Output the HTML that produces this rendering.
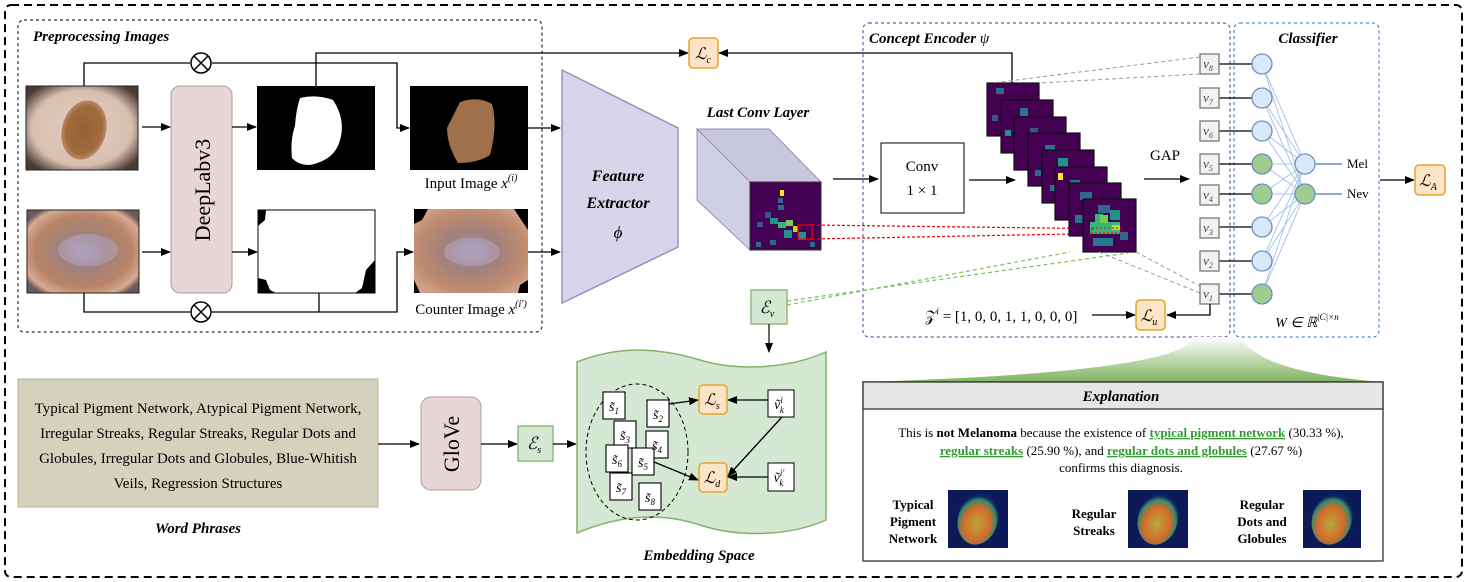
<!DOCTYPE html>
<html><head><meta charset="utf-8"><style>
html,body{margin:0;padding:0;background:#fff;}
svg{display:block;font-family:"Liberation Serif",serif;}
.bi{font-weight:bold;font-style:italic;}
.m{font-style:italic;}
</style></head><body>
<svg width="1469" height="582" viewBox="0 0 1469 582" xmlns="http://www.w3.org/2000/svg">
<defs>
<marker id="a" markerWidth="10" markerHeight="8" refX="9" refY="4" orient="auto" markerUnits="userSpaceOnUse"><path d="M0,0 L10,4 L0,8 Z" fill="#000"/></marker>
<radialGradient id="sk1" cx="50%" cy="50%" r="62%"><stop offset="0" stop-color="#e2cdbf"/><stop offset="0.72" stop-color="#d8c0b0"/><stop offset="1" stop-color="#4a3a32"/></radialGradient>
<radialGradient id="mole1" cx="50%" cy="50%" r="50%"><stop offset="0" stop-color="#946036"/><stop offset="0.8" stop-color="#a06c3e"/><stop offset="1" stop-color="#b9896a"/></radialGradient>
<radialGradient id="sk2" cx="50%" cy="50%" r="62%"><stop offset="0" stop-color="#a89ab8"/><stop offset="0.35" stop-color="#a0817a"/><stop offset="0.7" stop-color="#b98468"/><stop offset="0.9" stop-color="#d8aa92"/><stop offset="1" stop-color="#6a5a5a"/></radialGradient>
<radialGradient id="sk3" cx="50%" cy="50%" r="60%"><stop offset="0" stop-color="#a99ab8"/><stop offset="0.4" stop-color="#a2807a"/><stop offset="0.8" stop-color="#c08c70"/><stop offset="1" stop-color="#d0a088"/></radialGradient>
<radialGradient id="hm" cx="50%" cy="60%" r="55%"><stop offset="0" stop-color="#b9a83a"/><stop offset="0.6" stop-color="#d46a2a"/><stop offset="0.85" stop-color="#3a8a6a"/><stop offset="1" stop-color="#102060"/></radialGradient>
<linearGradient id="fun" x1="0" y1="0" x2="0" y2="1"><stop offset="0" stop-color="#ffffff"/><stop offset="1" stop-color="#7fb35f"/></linearGradient>
</defs>

<rect x="5" y="5" width="1457" height="572" rx="6" fill="none" stroke="#000" stroke-width="2" stroke-dasharray="8,5"/>

<rect x="18" y="20" width="524" height="312" rx="6" fill="none" stroke="#000" stroke-width="1" stroke-dasharray="3,3"/>
<text x="33" y="41" class="bi" font-size="15">Preprocessing Images</text>

<rect x="26" y="86" width="112" height="84" fill="url(#sk1)" stroke="#222"/>
<ellipse cx="84" cy="130" rx="22" ry="30" fill="url(#mole1)" transform="rotate(15 84 130)"/>
<rect x="27" y="210" width="112" height="83" fill="url(#sk2)" stroke="#222"/>
<ellipse cx="88" cy="250" rx="30" ry="16" fill="#b4a8c8" opacity="0.5"/>

<rect x="171" y="86" width="61" height="207" rx="9" fill="#e8d6d6" stroke="#b09a9a"/>
<text transform="translate(210,190) rotate(-90)" text-anchor="middle" font-size="22">DeepLabv3</text>

<rect x="257" y="86" width="118" height="84" fill="#000"/>
<path d="M300,98 Q316,94 333,100 Q346,120 340,140 Q335,160 310,165 Q298,165 292,158 Q290,140 295,126 Q296,110 300,98 Z" fill="#fff"/>
<rect x="258" y="210" width="117" height="83" fill="#fff" stroke="#000"/>
<path d="M258,210 L266,210 L265,220 L258,226 Z M258,278 L266,280 L270,290 L276,293 L258,293 Z M375,260 L366,270 L362,288 L355,293 L375,293 Z" fill="#000"/>

<rect x="410" y="86" width="118" height="84" fill="#000"/>
<path d="M460,102 Q478,96 492,104 Q498,125 490,155 Q478,163 458,163 Q447,145 447,128 Z" fill="#a0704a"/>
<rect x="414" y="209" width="114" height="84" fill="url(#sk3)"/>
<path d="M414,209 L428,209 L422,220 L414,224 Z M514,209 L528,209 L528,230 Z M414,280 L420,293 L414,293 Z M520,285 L528,280 L528,293 L518,293 Z" fill="#000"/>
<ellipse cx="472" cy="252" rx="28" ry="14" fill="#b4a8c8" opacity="0.5"/>

<text x="471" y="188" text-anchor="middle" font-size="15">Input Image <tspan class="m">x</tspan><tspan font-size="10" dy="-7" class="m">(i)</tspan></text>
<text x="471" y="314" text-anchor="middle" font-size="15">Counter Image <tspan class="m">x</tspan><tspan font-size="10" dy="-7" class="m">(i′)</tspan></text>

<g stroke="#000" stroke-width="1.3" fill="none">
<line x1="142" y1="127" x2="170" y2="127" marker-end="url(#a)"/>
<line x1="142" y1="252" x2="170" y2="252" marker-end="url(#a)"/>
<line x1="232" y1="127" x2="256" y2="127" marker-end="url(#a)"/>
<line x1="232" y1="252" x2="257" y2="252" marker-end="url(#a)"/>
<polyline points="84,86 84,63 190,63"/>
<polyline points="212,63 397,63 397,128 409,128" marker-end="url(#a)"/>
<polyline points="84,293 84,312 190,312"/>
<polyline points="212,312 397,312 397,252 413,252" marker-end="url(#a)"/>
<line x1="319" y1="293" x2="319" y2="312"/>
<polyline points="316,86 316,53 688,53" marker-end="url(#a)"/>
<polyline points="1012,83 1012,53 719,53" marker-end="url(#a)"/>
<line x1="528" y1="128" x2="560" y2="128" marker-end="url(#a)"/>
<line x1="528" y1="252" x2="560" y2="252" marker-end="url(#a)"/>
</g>
<g stroke="#000" stroke-width="1.5" fill="#fff">
<circle cx="201" cy="63" r="10"/><path d="M194,56 L208,70 M208,56 L194,70"/>
<circle cx="201" cy="312" r="10"/><path d="M194,305 L208,319 M208,305 L194,319"/>
</g>

<rect x="689" y="38" width="29" height="30" rx="4" fill="#fde4c6" stroke="#e3a531" stroke-width="1.5"/>
<text x="703" y="59" text-anchor="middle" font-size="16" class="m">ℒ<tspan font-size="10" dy="4">c</tspan></text>

<path d="M562,70 L678,128 L678,247 L562,303 Z" fill="#d6d5ea" stroke="#9c8cc0" stroke-width="1.5"/>
<text x="618" y="181" text-anchor="middle" class="bi" font-size="16">Feature</text>
<text x="618" y="208" text-anchor="middle" class="bi" font-size="16">Extractor</text>
<text x="618" y="238" text-anchor="middle" class="m" font-size="17">ϕ</text>

<text x="758" y="117" text-anchor="middle" class="bi" font-size="15">Last Conv Layer</text>
<path d="M697,129 L769,129 L821,182 L750,182 Z" fill="#c8c8dc" stroke="#9c8cc0"/>
<path d="M697,129 L750,182 L750,250 L697,200 Z" fill="#d0d0e4" stroke="#9c8cc0"/>
<rect x="750" y="182" width="71" height="68" fill="#440154" stroke="#333"/>
<g>
<rect x="780" y="190" width="4" height="6" fill="#fde725"/>
<rect x="778" y="198" width="5" height="5" fill="#31688e"/>
<rect x="778" y="205" width="6" height="5" fill="#31688e"/>
<rect x="765" y="212" width="6" height="6" fill="#3b528b"/>
<rect x="770" y="218" width="8" height="6" fill="#21918c"/>
<rect x="778" y="222" width="8" height="6" fill="#35b779"/>
<rect x="786" y="220" width="7" height="6" fill="#6ece58"/>
<rect x="793" y="226" width="5" height="6" fill="#b5de2b"/>
<rect x="757" y="222" width="6" height="5" fill="#3b528b"/>
<rect x="784" y="230" width="8" height="8" fill="#21918c"/>
<rect x="798" y="232" width="8" height="8" fill="#21918c"/>
<rect x="770" y="240" width="6" height="5" fill="#31688e"/>
<rect x="756" y="242" width="5" height="5" fill="#31688e"/>
<rect x="810" y="242" width="5" height="5" fill="#31688e"/>
</g>
<rect x="798" y="225" width="14" height="14" fill="none" stroke="#e00" stroke-width="1.2"/>
<g stroke="#e00" stroke-width="1.2" stroke-dasharray="3,2">
<line x1="812" y1="225" x2="1122" y2="229"/><line x1="812" y1="239" x2="1122" y2="233"/>
</g>

<rect x="863" y="23" width="367" height="314" rx="6" fill="none" stroke="#5b2c8f" stroke-width="1" stroke-dasharray="3,3"/>
<text x="869" y="43" class="bi" font-size="15">Concept Encoder <tspan class="m" font-weight="normal">ψ</tspan></text>
<line x1="833" y1="179" x2="878" y2="179" stroke="#000" stroke-width="1.3" marker-end="url(#a)"/>
<rect x="881" y="143" width="83" height="70" fill="#fff" stroke="#000"/>
<text x="922" y="171" text-anchor="middle" font-size="15">Conv</text>
<text x="922" y="195" text-anchor="middle" font-size="15">1 × 1</text>
<line x1="969" y1="180" x2="1015" y2="180" stroke="#000" stroke-width="1.3" marker-end="url(#a)"/>

<g stroke="#111" stroke-width="1.2">
<rect x="987" y="83" width="52" height="53" fill="#440154"/>
<rect x="996" y="88" width="8" height="6" fill="#31688e" stroke="none"/><rect x="1010" y="100" width="6" height="8" fill="#21918c" stroke="none"/><rect x="992" y="115" width="6" height="6" fill="#3b528b" stroke="none"/>
<rect x="1001" y="100" width="52" height="53" fill="#440154"/>
<rect x="1020" y="108" width="8" height="8" fill="#2c728e" stroke="none"/><rect x="1005" y="130" width="6" height="6" fill="#21918c" stroke="none"/><rect x="1030" y="120" width="6" height="6" fill="#31688e" stroke="none"/>
<rect x="1014" y="117" width="52" height="53" fill="#440154"/>
<rect x="1030" y="128" width="8" height="6" fill="#3b528b" stroke="none"/><rect x="1040" y="150" width="6" height="6" fill="#31688e" stroke="none"/>
<rect x="1028" y="133" width="52" height="53" fill="#440154"/>
<rect x="1045" y="145" width="10" height="8" fill="#2c728e" stroke="none"/><rect x="1055" y="160" width="8" height="8" fill="#21918c" stroke="none"/><rect x="1035" y="170" width="6" height="6" fill="#31688e" stroke="none"/>
<rect x="1042" y="150" width="52" height="53" fill="#440154"/>
<rect x="1058" y="158" width="10" height="10" fill="#21918c" stroke="none"/><rect x="1068" y="170" width="8" height="8" fill="#35b779" stroke="none"/><rect x="1050" y="185" width="8" height="6" fill="#2c728e" stroke="none"/>
<rect x="1055" y="167" width="52" height="53" fill="#440154"/>
<rect x="1058" y="173" width="5" height="7" fill="#fde725" stroke="none"/><rect x="1070" y="180" width="10" height="8" fill="#2c728e" stroke="none"/><rect x="1080" y="195" width="10" height="8" fill="#21918c" stroke="none"/>
<rect x="1069" y="183" width="52" height="53" fill="#440154"/>
<rect x="1080" y="192" width="12" height="8" fill="#31688e" stroke="none"/><rect x="1090" y="205" width="12" height="10" fill="#21918c" stroke="none"/><rect x="1075" y="215" width="8" height="8" fill="#2c728e" stroke="none"/>
<rect x="1083" y="199" width="53" height="53" fill="#440154"/>
</g>
<g stroke="none">
<rect x="1098" y="205" width="12" height="8" fill="#31688e"/>
<rect x="1110" y="210" width="10" height="10" fill="#21918c"/>
<rect x="1095" y="214" width="8" height="8" fill="#35b779"/>
<rect x="1090" y="222" width="30" height="12" fill="#35b779"/>
<rect x="1100" y="215" width="8" height="8" fill="#6ece58"/>
<rect x="1093" y="238" width="20" height="8" fill="#2a788e"/>
<rect x="1112" y="225" width="8" height="5" fill="#b5de2b"/>
<rect x="1120" y="232" width="8" height="8" fill="#31688e"/>
</g>
<rect x="1092" y="228" width="30" height="5" fill="none" stroke="#e00" stroke-dasharray="2,2"/>
<text x="1165" y="160" text-anchor="middle" font-size="15">GAP</text>
<line x1="1144" y1="179" x2="1189" y2="179" stroke="#000" stroke-width="1.3" marker-end="url(#a)"/>

<g stroke="#999" stroke-width="1" stroke-dasharray="4,3">
<line x1="1200" y1="57" x2="992" y2="83"/><line x1="1200" y1="74" x2="1039" y2="83"/>
<line x1="1099" y1="252" x2="1200" y2="293"/><line x1="1136" y1="252" x2="1200" y2="286"/>
</g>
<g stroke="#7fbf5f" stroke-width="1.2" stroke-dasharray="4,3">
<line x1="787" y1="305" x2="1070" y2="252"/><line x1="787" y1="301" x2="1128" y2="253"/>
</g>

<rect x="1234" y="23" width="145" height="314" rx="6" fill="none" stroke="#2b6cb0" stroke-width="1" stroke-dasharray="3,3"/>
<text x="1308" y="43" text-anchor="middle" class="bi" font-size="15">Classifier</text>
<g stroke="#a9c4eb" stroke-width="1">
<path d="M1262,64 L1305,164 M1262,64 L1305,194 M1262,98 L1305,164 M1262,98 L1305,194 M1262,131 L1305,164 M1262,131 L1305,194 M1262,164 L1305,164 M1262,164 L1305,194 M1262,194 L1305,164 M1262,194 L1305,194 M1262,227 L1305,164 M1262,227 L1305,194 M1262,261 L1305,164 M1262,261 L1305,194 M1262,294 L1305,164 M1262,294 L1305,194"/>
</g>
<g stroke="#6c8ebf" stroke-width="1.5"><line x1="1305" y1="164" x2="1342" y2="164"/><line x1="1305" y1="194" x2="1342" y2="194"/></g>
<g stroke="#000" stroke-width="1.3">
<line x1="1219" y1="64" x2="1252" y2="64"/><line x1="1219" y1="98" x2="1252" y2="98"/><line x1="1219" y1="131" x2="1252" y2="131"/><line x1="1219" y1="164" x2="1252" y2="164"/><line x1="1219" y1="194" x2="1252" y2="194"/><line x1="1219" y1="227" x2="1252" y2="227"/><line x1="1219" y1="261" x2="1252" y2="261"/><line x1="1219" y1="294" x2="1252" y2="294"/>
</g>
<g stroke-width="1.3">
<circle cx="1262" cy="64" r="10" fill="#dae8fc" stroke="#6c8ebf"/>
<circle cx="1262" cy="98" r="10" fill="#dae8fc" stroke="#6c8ebf"/>
<circle cx="1262" cy="131" r="10" fill="#dae8fc" stroke="#6c8ebf"/>
<circle cx="1262" cy="164" r="10" fill="#9fcc8f" stroke="#6c8ebf"/>
<circle cx="1262" cy="194" r="10" fill="#9fcc8f" stroke="#6c8ebf"/>
<circle cx="1262" cy="227" r="10" fill="#dae8fc" stroke="#6c8ebf"/>
<circle cx="1262" cy="261" r="10" fill="#dae8fc" stroke="#6c8ebf"/>
<circle cx="1262" cy="294" r="10" fill="#9fcc8f" stroke="#6c8ebf"/>
<circle cx="1305" cy="164" r="10" fill="#dae8fc" stroke="#6c8ebf"/>
<circle cx="1305" cy="194" r="10" fill="#9fcc8f" stroke="#6c8ebf"/>
</g>
<text x="1347" y="168" font-size="13">Mel</text>
<text x="1347" y="198" font-size="13">Nev</text>
<g fill="#f2f2f2" stroke="#777" stroke-width="1.3">
<rect x="1200" y="54" width="19" height="20"/><rect x="1200" y="88" width="19" height="20"/><rect x="1200" y="121" width="19" height="20"/><rect x="1200" y="154" width="19" height="20"/><rect x="1200" y="185" width="19" height="20"/><rect x="1200" y="218" width="19" height="20"/><rect x="1200" y="251" width="19" height="20"/><rect x="1200" y="284" width="19" height="20"/>
</g>
<g font-size="13" class="m" fill="#444" text-anchor="middle">
<text x="1208" y="68">v<tspan font-size="8" dy="3">8</tspan></text>
<text x="1208" y="102">v<tspan font-size="8" dy="3">7</tspan></text>
<text x="1208" y="135">v<tspan font-size="8" dy="3">6</tspan></text>
<text x="1208" y="168">v<tspan font-size="8" dy="3">5</tspan></text>
<text x="1208" y="199">v<tspan font-size="8" dy="3">4</tspan></text>
<text x="1208" y="232">v<tspan font-size="8" dy="3">3</tspan></text>
<text x="1208" y="265">v<tspan font-size="8" dy="3">2</tspan></text>
<text x="1208" y="298">v<tspan font-size="8" dy="3">1</tspan></text>
</g>
<line x1="1380" y1="180" x2="1414" y2="180" stroke="#000" stroke-width="1.3" marker-end="url(#a)"/>
<rect x="1415" y="165" width="30" height="30" rx="4" fill="#fde4c6" stroke="#e3a531" stroke-width="1.5"/>
<text x="1428" y="186" text-anchor="middle" font-size="16" class="m">ℒ<tspan font-size="10" dy="4">A</tspan></text>
<text x="1307" y="327" text-anchor="middle" font-size="14" class="m">W ∈ ℝ<tspan font-size="9" dy="-7">|C|×n</tspan></text>

<text x="925" y="321" font-size="15">𝒵<tspan font-size="9" dy="-7" class="m">i</tspan><tspan dy="7"> = [1, 0, 0, 1, 1, 0, 0, 0]</tspan></text>
<line x1="1092" y1="315" x2="1135" y2="315" stroke="#000" stroke-width="1.3" marker-end="url(#a)"/>
<polyline points="1210,304 1210,315 1167,315" fill="none" stroke="#000" stroke-width="1.3" marker-end="url(#a)"/>
<rect x="1136" y="300" width="29" height="30" rx="4" fill="#fde4c6" stroke="#e3a531" stroke-width="1.5"/>
<text x="1149" y="321" text-anchor="middle" font-size="16" class="m">ℒ<tspan font-size="10" dy="4">u</tspan></text>

<rect x="751" y="290" width="36" height="34" fill="#d5e8d4" stroke="#82b366" stroke-width="1.3"/>
<text x="767" y="313" text-anchor="middle" font-size="17" class="m">ℰ<tspan font-size="10" dy="4">v</tspan></text>
<line x1="769" y1="324" x2="769" y2="352" stroke="#000" stroke-width="1.2" marker-end="url(#a)"/>

<rect x="18" y="379" width="360" height="128" fill="#d4d2bd" stroke="#b8b697"/>
<g font-size="15" text-anchor="middle">
<text x="198" y="413">Typical Pigment Network, Atypical Pigment Network,</text>
<text x="198" y="438">Irregular Streaks, Regular Streaks, Regular Dots and</text>
<text x="198" y="463">Globules, Irregular Dots and Globules, Blue-Whitish</text>
<text x="198" y="488">Veils, Regression Structures</text>
</g>
<text x="198" y="533" text-anchor="middle" class="bi" font-size="15">Word Phrases</text>
<line x1="378" y1="444" x2="419" y2="444" stroke="#000" stroke-width="1.3" marker-end="url(#a)"/>
<rect x="421" y="397" width="60" height="93" rx="10" fill="#e8d6d6" stroke="#b09a9a"/>
<text transform="translate(459,444) rotate(-90)" text-anchor="middle" font-size="22">GloVe</text>
<line x1="481" y1="444" x2="517" y2="444" stroke="#000" stroke-width="1.3" marker-end="url(#a)"/>
<rect x="518" y="426" width="35" height="35" fill="#d5e8d4" stroke="#82b366" stroke-width="1.3"/>
<text x="534" y="449" text-anchor="middle" font-size="17" class="m">ℰ<tspan font-size="10" dy="4">s</tspan></text>
<line x1="553" y1="444" x2="576" y2="444" stroke="#000" stroke-width="1.3" marker-end="url(#a)"/>

<path d="M577,362 C620,345 660,348 700,360 C740,372 790,368 826,352 L826,520 C790,536 740,538 700,525 C660,512 620,515 577,533 Z" fill="#d5e8d4" stroke="#82b366" stroke-width="1.5"/>
<ellipse cx="637" cy="452" rx="51" ry="68" fill="none" stroke="#000" stroke-dasharray="4,3"/>
<g fill="#fff" stroke="#000" stroke-width="1.1">
<rect x="603" y="392" width="22" height="27"/>
<rect x="647" y="400" width="22" height="27"/>
<rect x="614" y="421" width="22" height="27"/>
<rect x="646" y="431" width="22" height="27"/>
<rect x="606" y="445" width="22" height="27"/>
<rect x="632" y="448" width="22" height="27"/>
<rect x="610" y="473" width="22" height="27"/>
<rect x="639" y="483" width="22" height="27"/>
</g>
<g font-size="14" class="m" text-anchor="middle">
<text x="614" y="411">s̃<tspan font-size="9" dy="3">1</tspan></text>
<text x="658" y="419">s̃<tspan font-size="9" dy="3">2</tspan></text>
<text x="625" y="440">s̃<tspan font-size="9" dy="3">3</tspan></text>
<text x="657" y="450">s̃<tspan font-size="9" dy="3">4</tspan></text>
<text x="617" y="464">s̃<tspan font-size="9" dy="3">6</tspan></text>
<text x="643" y="467">s̃<tspan font-size="9" dy="3">5</tspan></text>
<text x="621" y="492">s̃<tspan font-size="9" dy="3">7</tspan></text>
<text x="650" y="502">s̃<tspan font-size="9" dy="3">8</tspan></text>
</g>
<rect x="699" y="385" width="28" height="29" rx="4" fill="#fde4c6" stroke="#e3a531" stroke-width="1.5"/>
<text x="712" y="405" text-anchor="middle" font-size="16" class="m">ℒ<tspan font-size="10" dy="4">s</tspan></text>
<rect x="699" y="463" width="28" height="29" rx="4" fill="#fde4c6" stroke="#e3a531" stroke-width="1.5"/>
<text x="712" y="483" text-anchor="middle" font-size="16" class="m">ℒ<tspan font-size="10" dy="4">d</tspan></text>
<rect x="768" y="390" width="26" height="27" fill="#fff" stroke="#000"/>
<text x="779" y="409" text-anchor="middle" font-size="14" class="m">ṽ<tspan font-size="9" dy="-6">i</tspan><tspan font-size="9" dx="-3" dy="10">k</tspan></text>
<rect x="768" y="463" width="26" height="28" fill="#fff" stroke="#000"/>
<text x="779" y="482" text-anchor="middle" font-size="14" class="m">ṽ<tspan font-size="9" dy="-6">i′</tspan><tspan font-size="9" dx="-5" dy="10">k</tspan></text>
<g stroke="#000" stroke-width="1.3" fill="none">
<line x1="669" y1="404" x2="698" y2="400" marker-end="url(#a)"/>
<line x1="768" y1="400" x2="728" y2="400" marker-end="url(#a)"/>
<line x1="782" y1="417" x2="728" y2="476" marker-end="url(#a)"/>
<line x1="768" y1="477" x2="728" y2="477" marker-end="url(#a)"/>
<line x1="654" y1="462" x2="698" y2="480" marker-end="url(#a)"/>
</g>
<text x="699" y="560" text-anchor="middle" class="bi" font-size="15">Embedding Space</text>

<path d="M1193,337 Q1185,372 863,382 L1383,382 Q1258,372 1241,337 Z" fill="url(#fun)"/>
<rect x="863" y="382" width="520" height="179" fill="#fff" stroke="#333" stroke-width="1.3"/>
<rect x="863" y="382" width="520" height="27" fill="#e6e6e6" stroke="#333" stroke-width="1.3"/>
<text x="1121" y="401" text-anchor="middle" class="bi" font-size="15">Explanation</text>
<g font-size="13" text-anchor="middle">
<text x="1121" y="437">This is <tspan font-weight="bold">not Melanoma</tspan> because the existence of <tspan font-weight="bold" fill="#2f9e2f" text-decoration="underline">typical pigment network</tspan> (30.33 %),</text>
<text x="1121" y="455"><tspan font-weight="bold" fill="#2f9e2f" text-decoration="underline">regular streaks</tspan> (25.90 %), and <tspan font-weight="bold" fill="#2f9e2f" text-decoration="underline">regular dots and globules</tspan> (27.67 %)</text>
<text x="1121" y="472">confirms this diagnosis.</text>
</g>
<g font-size="13" font-weight="bold" text-anchor="middle">
<text x="913" y="509">Typical</text><text x="913" y="526">Pigment</text><text x="913" y="543">Network</text>
<text x="1094" y="518">Regular</text><text x="1094" y="535">Streaks</text>
<text x="1262" y="509">Regular</text><text x="1262" y="526">Dots and</text><text x="1262" y="543">Globules</text>
</g>
<rect x="948" y="490" width="60" height="58" fill="#0c1a5a"/>
<ellipse cx="978" cy="519" rx="20" ry="26" fill="url(#hm)" transform="rotate(15 978 519)"/>
<rect x="1128" y="490" width="60" height="58" fill="#0c1a5a"/>
<ellipse cx="1158" cy="519" rx="20" ry="26" fill="url(#hm)" transform="rotate(15 1158 519)"/>
<rect x="1303" y="490" width="58" height="58" fill="#0c1a5a"/>
<ellipse cx="1332" cy="519" rx="20" ry="26" fill="url(#hm)" transform="rotate(15 1332 519)"/>
</svg>
</body></html>
